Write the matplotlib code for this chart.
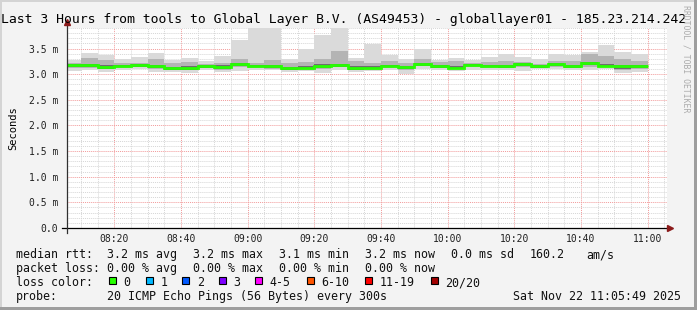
import matplotlib
matplotlib.use('Agg')
import matplotlib.pyplot as plt
import matplotlib.dates as mdates
from matplotlib.lines import Line2D
from matplotlib.patches import Rectangle
from matplotlib.ticker import MultipleLocator, FuncFormatter
import pandas as pd

# --- data (values in ms, 5 minute bins 08:05 .. 11:00)
bin_edges = pd.date_range('2025-11-22 08:05', '2025-11-22 11:00', freq='5min')
median = [3.17, 3.17, 3.14, 3.16, 3.17, 3.15, 3.12, 3.12, 3.15, 3.13, 3.19, 3.16,
          3.15, 3.12, 3.12, 3.16, 3.17, 3.12, 3.12, 3.16, 3.14, 3.19, 3.16, 3.12,
          3.18, 3.16, 3.15, 3.19, 3.15, 3.19, 3.16, 3.21, 3.16, 3.15, 3.15]
ping_max = [3.27, 3.41, 3.37, 3.30, 3.33, 3.42, 3.28, 3.31, 3.25, 3.35, 3.66, 3.95,
            3.95, 3.30, 3.49, 3.76, 3.95, 3.31, 3.59, 3.37, 3.30, 3.49, 3.28, 3.31,
            3.28, 3.33, 3.40, 3.33, 3.29, 3.39, 3.37, 3.43, 3.56, 3.43, 3.39]
ping_min = [3.07, 3.09, 3.05, 3.09, 3.10, 3.04, 3.04, 3.03, 3.09, 3.05, 3.07, 3.09,
            3.09, 3.04, 3.07, 3.03, 3.09, 3.05, 3.07, 3.09, 3.01, 3.10, 3.09, 3.07,
            3.09, 3.09, 3.09, 3.07, 3.10, 3.10, 3.09, 3.09, 3.10, 3.02, 3.05]
q_hi = [3.22, 3.31, 3.27, 3.22, 3.22, 3.30, 3.21, 3.24, 3.20, 3.22, 3.30, 3.22,
        3.27, 3.21, 3.23, 3.30, 3.46, 3.26, 3.22, 3.26, 3.22, 3.30, 3.24, 3.26,
        3.22, 3.23, 3.26, 3.24, 3.20, 3.25, 3.26, 3.40, 3.35, 3.30, 3.25]
q_lo = [3.12, 3.12, 3.10, 3.12, 3.13, 3.10, 3.08, 3.08, 3.12, 3.09, 3.13, 3.12,
        3.11, 3.08, 3.09, 3.10, 3.13, 3.09, 3.09, 3.12, 3.08, 3.15, 3.12, 3.10,
        3.13, 3.12, 3.12, 3.13, 3.13, 3.14, 3.12, 3.13, 3.13, 3.09, 3.10]
core_hi = [3.19, 3.20, 3.17, 3.18, 3.19, 3.18, 3.14, 3.15, 3.17, 3.17, 3.21, 3.18,
           3.18, 3.14, 3.15, 3.19, 3.20, 3.15, 3.15, 3.18, 3.16, 3.21, 3.18, 3.15,
           3.20, 3.18, 3.17, 3.21, 3.17, 3.21, 3.18, 3.24, 3.19, 3.17, 3.17]
core_lo = [3.14, 3.14, 3.11, 3.13, 3.14, 3.12, 3.08, 3.09, 3.12, 3.10, 3.15, 3.13,
           3.12, 3.09, 3.10, 3.12, 3.14, 3.09, 3.10, 3.13, 3.11, 3.16, 3.12, 3.10,
           3.15, 3.13, 3.12, 3.16, 3.12, 3.16, 3.12, 3.18, 3.13, 3.11, 3.12]

title = 'Last 3 Hours from tools to Global Layer B.V. (AS49453) - globallayer01 - 185.23.214.242'
loss_labels = ['0', '1', '2', '3', '4-5', '6-10', '11-19', '20/20']
loss_colors = ['#26ff00', '#00b8ff', '#0059ff', '#7e00ff', '#ff00ff', '#ff5500', '#ff0000', '#a10000']

W, H = 697, 310
MONO = 'DejaVu Sans Mono'


def fx(x):
    return x / W


def fy(y):
    return 1 - y / H


fig = plt.figure(figsize=(W / 100, H / 100), dpi=100)
fig.patch.set_facecolor('#f3f3f3')

# 3d-ish frame of the rrdtool canvas
for (x, y, w, h, c) in [(0, 0, W, 2, '#d4d4d4'), (0, 0, 2, H, '#d4d4d4'),
                        (W - 3, 0, 3, H, '#9e9e9e'), (0, H - 3, W, 3, '#9e9e9e')]:
    fig.add_artist(Rectangle((fx(x), fy(y + h)), w / W, h / H, transform=fig.transFigure,
                             facecolor=c, edgecolor='none'))

ax = fig.add_axes([fx(67), fy(228), 600 / W, 200 / H])
ax.set_facecolor('white')
for s in ax.spines.values():
    s.set_visible(False)

# smoke: outer pings light, inner pings darker
edges = mdates.date2num(bin_edges.to_pydatetime())
ax.stairs(ping_max, edges, baseline=ping_min, fill=True, color='#dadada', lw=0, zorder=2)
ax.stairs(q_hi, edges, baseline=q_lo, fill=True, color='#b4b4b4', lw=0, zorder=3)
ax.stairs(core_hi, edges, baseline=core_lo, fill=True, color='#6e6e6e', lw=0, zorder=4)
ax.stairs(median, edges, baseline=None, color='#26ff00', lw=2.0, zorder=5)

ax.set_xlim(mdates.date2num(pd.Timestamp('2025-11-22 08:05:49')),
            mdates.date2num(pd.Timestamp('2025-11-22 11:05:49')))
ax.set_ylim(0, 3.9)

ax.xaxis.set_major_locator(mdates.MinuteLocator(byminute=[0, 20, 40]))
ax.xaxis.set_minor_locator(mdates.MinuteLocator(byminute=range(0, 60, 5)))
ax.xaxis.set_major_formatter(mdates.DateFormatter('%H:%M'))
ax.yaxis.set_major_locator(MultipleLocator(0.5))
ax.yaxis.set_minor_locator(MultipleLocator(0.1))
ax.yaxis.set_major_formatter(FuncFormatter(lambda v, p: '0.0' if v == 0 else f'{v:.1f} m'))

ax.grid(which='minor', color='#d6d6d6', linestyle=(0, (1, 1)), lw=0.7, zorder=1)
ax.grid(which='major', color='#f29a9a', linestyle=(0, (1, 1)), lw=0.7, zorder=1)
ax.set_axisbelow(True)
ax.tick_params(which='both', length=0)
ax.tick_params(axis='y', pad=6.5, labelsize=7)
ax.tick_params(axis='x', pad=4.5, labelsize=7)
for lab in ax.get_xticklabels() + ax.get_yticklabels():
    lab.set_family(MONO)
    lab.set_color('#202020')

# axes with arrows
fig.add_artist(Line2D([fx(62), fx(668)], [fy(228), fy(228)], color='black', lw=0.9))
fig.add_artist(Line2D([fx(67), fx(67)], [fy(233), fy(24)], color='#303030', lw=0.9))
fig.add_artist(Line2D([fx(670)], [fy(228)], marker='>', color='#8b1a1a', ms=4.5, ls='none'))
fig.add_artist(Line2D([fx(67)], [fy(22)], marker='^', color='#8b1a1a', ms=4.5, ls='none'))

fig.text(fx(344), fy(23), title, family=MONO, fontsize=9.45, ha='center', va='baseline')
fig.text(fx(13), fy(128), 'Seconds', family=MONO, fontsize=7.5, rotation=90,
         ha='center', va='center')
fig.text(fx(686), fy(5), 'RRDTOOL / TOBI OETIKER', family=MONO, fontsize=5.9,
         rotation=-90, ha='center', va='top', color='#ababab')

LS = 8.35
rows = [
    (258.3, [(16, 'median rtt:'), (107.3, '3.2 ms avg'), (193.3, '3.2 ms max'),
             (279.3, '3.1 ms min'), (365.3, '3.2 ms now'), (451, '0.0 ms sd'),
             (530, '160.2'), (586, 'am/s')]),
    (272, [(16, 'packet loss:'), (107.3, '0.00 % avg'), (193.3, '0.00 % max'),
           (279.3, '0.00 % min'), (365.3, '0.00 % now')]),
    (286, [(16, 'loss color:')]),
    (300, [(16, 'probe:'), (107.3, '20 ICMP Echo Pings (56 Bytes) every 300s'),
           (513, 'Sat Nov 22 11:05:49 2025')]),
]
for yb, items in rows:
    for x, s in items:
        fig.text(fx(x), fy(yb), s, family=MONO, fontsize=LS, ha='left', va='baseline',
                 color='#111111')

box_x = [109, 145.7, 182.3, 218.7, 255.3, 306.7, 365.3, 431]
for bx, lab, c in zip(box_x, loss_labels, loss_colors):
    fig.add_artist(Rectangle((fx(bx), fy(284)), 7 / W, 7 / H, transform=fig.transFigure,
                             facecolor=c, edgecolor='black', lw=0.8))
    fig.text(fx(bx + 14.5), fy(286), lab, family=MONO, fontsize=LS, ha='left',
             va='baseline', color='#111111')

fig.savefig('out.png', dpi=100, facecolor=fig.get_facecolor())
